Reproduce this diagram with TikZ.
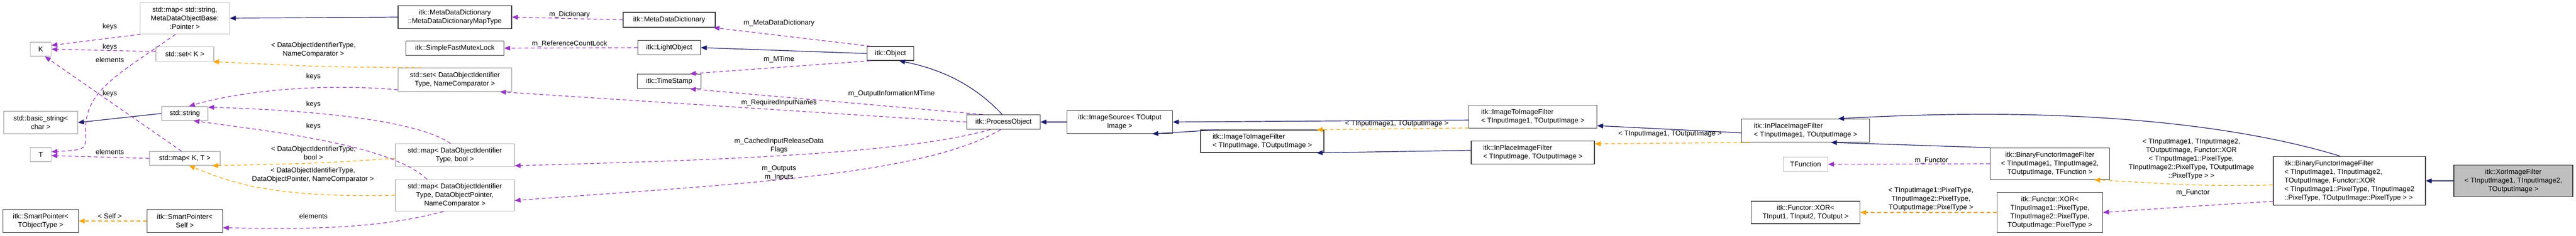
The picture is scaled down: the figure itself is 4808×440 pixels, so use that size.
\documentclass[tikz,border=0pt]{standalone}
\usepackage{fontspec}
\setmainfont{Liberation Sans}
\usetikzlibrary{arrows.meta}
\definecolor{navy}{HTML}{191970}
\definecolor{purp}{HTML}{9A32CD}
\definecolor{orng}{HTML}{FFA500}
\definecolor{gbord}{HTML}{BFBFBF}
\definecolor{bbord}{HTML}{404040}
\begin{document}
\begin{tikzpicture}[x=1pt,y=-1pt,
  every node/.style={font=\fontsize{13}{16}\selectfont},
  bx/.style={draw=bbord,line width=1.2pt,inner sep=0pt,align=center,fill=white},
  gx/.style={draw=gbord,line width=1.2pt,inner sep=0pt,align=center,fill=white},
  tip/.style={-{Triangle[length=11pt,width=9pt]}},
  inh/.style={tip,navy,line width=1.2pt},
  tmpl/.style={tip,orng,line width=1.2pt,dash pattern=on 7pt off 5pt},
  use/.style={tip,purp,line width=1.2pt,dash pattern=on 7pt off 5pt},
  lbl/.style={align=center,inner sep=0pt}]
\useasboundingbox (0,0) rectangle (4808,440);
% nodes
\node[gx,minimum width=167,minimum height=59] (mapStr) at (345,34) {std::map< std::string,\\MetaDataObjectBase:\\:Pointer >};
\node[gx,minimum width=39,minimum height=26] (K) at (76,92) {K};
\node[gx,minimum width=108,minimum height=27] (setK) at (345,101) {std::set< K >};
\node[gx,minimum width=86,minimum height=26] (string) at (345,212) {std::string};
\node[gx,minimum width=138,minimum height=42] (basic) at (76,229) {std::basic\_string<\\char >};
\node[gx,minimum width=39,minimum height=26] (T) at (76,289) {T};
\node[gx,minimum width=132,minimum height=26] (mapKT) at (345,296) {std::map< K, T >};
\node[bx,minimum width=141,minimum height=43] (SPT) at (76,413) {itk::SmartPointer<\\TObjectType >};
\node[bx,minimum width=141,minimum height=43] (SPSelf) at (345,413) {itk::SmartPointer<\\Self >};
\node[bx,minimum width=212,minimum height=43] (MDDMap) at (849,32) {itk::MetaDataDictionary\\::MetaDataDictionaryMapType};
\node[bx,minimum width=172,minimum height=28] (MDD) at (1249,37) {itk::MetaDataDictionary};
\node[bx,minimum width=183,minimum height=27] (SFML) at (849,90) {itk::SimpleFastMutexLock};
\node[bx,minimum width=117,minimum height=27] (Light) at (1249,89) {itk::LightObject};
\node[gx,minimum width=212,minimum height=44] (setDOI) at (849,149) {std::set< DataObjectIdentifier\\Type, NameComparator >};
\node[bx,minimum width=119,minimum height=27] (TS) at (1249,152) {itk::TimeStamp};
\node[gx,minimum width=222,minimum height=43] (mapDOIbool) at (849,290) {std::map< DataObjectIdentifier\\Type, bool >};
\node[gx,minimum width=222,minimum height=59] (mapDOIptr) at (849,365) {std::map< DataObjectIdentifier\\Type, DataObjectPointer,\\NameComparator >};
\node[bx,minimum width=87,minimum height=26] (Object) at (1662,100) {itk::Object};
\node[bx,minimum width=137,minimum height=27] (PO) at (1873,228) {itk::ProcessObject};
\node[bx,minimum width=197,minimum height=43] (IS) at (2090,228) {itk::ImageSource< TOutput\\Image >};
\node[bx,minimum width=230,minimum height=42,align=left] (ITIF) at (2356,264) {itk::ImageToImageFilter\\< TInputImage, TOutputImage >};
\node[bx,minimum width=239,minimum height=43,align=left] (ITIF1) at (2861,218) {itk::ImageToImageFilter\\< TInputImage1, TOutputImage >};
\node[bx,minimum width=230,minimum height=43,align=left] (IPIF) at (2861,285) {itk::InPlaceImageFilter\\< TInputImage, TOutputImage >};
\node[bx,minimum width=239,minimum height=43,align=left] (IPIF1) at (3370,244) {itk::InPlaceImageFilter\\< TInputImage1, TOutputImage >};
\node[bx,minimum width=223,minimum height=59] (BFIF) at (3826,306) {itk::BinaryFunctorImageFilter\\< TInputImage1, TInputImage2,\\TOutputImage, TFunction >};
\node[gx,minimum width=83,minimum height=27] (TF) at (3370,307) {TFunction};
\node[bx,minimum width=203,minimum height=42] (XOR1) at (3370,397) {itk::Functor::XOR<\\TInput1, TInput2, TOutput >};
\node[bx,minimum width=197,minimum height=75] (XORpix) at (3826,397) {itk::Functor::XOR<\\TInputImage1::PixelType,\\TInputImage2::PixelType,\\TOutputImage::PixelType >};
\node[bx,minimum width=284,minimum height=91,align=left] (BFX) at (4385,338) {itk::BinaryFunctorImageFilter\\< TInputImage1, TInputImage2,\\ TOutputImage, Functor::XOR\\< TInputImage1::PixelType, TInputImage2\\::PixelType, TOutputImage::PixelType > >};
\node[bx,fill=gbord,minimum width=222,minimum height=59] (Xor) at (4691,338) {itk::XorImageFilter\\< TInputImage1, TInputImage2,\\TOutputImage >};
% inheritance
\draw[inh] (string.west) -- (basic.east);
\draw[inh] (MDDMap.west) -- (mapStr.east);
\draw[inh] (Object.west) -- (Light.east);
\draw[inh] (PO.100) .. controls (1820,160) and (1760,130) .. (Object.-40);
\draw[inh] (IS.west) -- (PO.east);
\draw[inh] (ITIF1.183) -- (IS.east);
\draw[inh] (ITIF.165) -- (IS.-20);
\draw[inh] (IPIF.178) -- (ITIF.-12);
\draw[inh] (IPIF1.182) -- (ITIF1.-8);
\draw[inh] (BFX.110) .. controls (4200,240) and (3900,195) .. (IPIF1.20);
\draw[inh] (BFIF.165) -- (IPIF1.-25);
\draw[inh] (Xor.west) -- (BFX.east);
% templates
\draw[tmpl] (setDOI.160) .. controls (600,125) .. (setK.-15);
\draw[tmpl] (mapDOIbool.183) .. controls (600,305) .. (mapKT.-15);
\draw[tmpl] (mapDOIptr.180) .. controls (500,370) and (430,340) .. (mapKT.-60);
\draw[tmpl] (SPSelf.west) -- (SPT.east);
\draw[tmpl] (ITIF1.190) -- (ITIF.12);
\draw[tmpl] (IPIF1.192) -- (IPIF.8);
\draw[tmpl] (BFX.183) .. controls (4100,350) and (4000,340) .. (BFIF.-20);
\draw[tmpl] (XORpix.west) -- (XOR1.east);
% usage
\draw[use] (mapStr.200) -- (K.20);
\draw[use] (setK.175) -- (K.east);
\draw[use] (mapKT.115) -- (K.-60);
\draw[use] (mapStr.-120) .. controls (220,140) and (155,170) .. (160,250) .. controls (160,280) .. (T.15);
\draw[use] (mapKT.west) -- (T.-5);
\draw[use] (setDOI.190) .. controls (600,155) and (450,170) .. (string.60);
\draw[use] (mapDOIbool.110) .. controls (770,220) and (550,205) .. (string.15);
\draw[use] (mapDOIptr.150) .. controls (730,270) and (500,245) .. (string.-40);
\draw[use] (mapDOIptr.-125) .. controls (700,430) and (550,428) .. (SPSelf.-10);
\draw[use] (MDD.west) -- (MDDMap.east);
\draw[use] (Light.west) -- (SFML.east);
\draw[use] (Object.160) -- (MDD.-10);
\draw[use] (Object.-160) -- (TS.20);
\draw[use] (PO.160) -- (TS.-20);
\draw[use] (PO.west) -- (setDOI.-15);
\draw[use] (PO.-150) .. controls (1680,290) and (1300,300) .. (mapDOIbool.-10);
\draw[use] (PO.-110) .. controls (1720,330) and (1350,345) .. (mapDOIptr.-5);
\draw[use] (BFIF.west) -- (TF.east);
\draw[use] (BFX.-165) .. controls (4100,385) .. (XORpix.east);
% labels
\node[lbl] at (205,50) {keys};
\node[lbl] at (205,88) {keys};
\node[lbl] at (205,112) {elements};
\node[lbl] at (205,175) {keys};
\node[lbl] at (205,284) {elements};
\node[lbl] at (205,404) {< Self >};
\node[lbl] at (585,93) {< DataObjectIdentifierType,\\NameComparator >};
\node[lbl] at (585,143) {keys};
\node[lbl] at (585,195) {keys};
\node[lbl] at (585,236) {keys};
\node[lbl] at (585,286) {< DataObjectIdentifierType,\\bool >};
\node[lbl] at (584,327) {< DataObjectIdentifierType,\\DataObjectPointer, NameComparator >};
\node[lbl] at (585,404) {elements};
\node[lbl] at (1063,27) {m\_Dictionary};
\node[lbl] at (1063,82) {m\_ReferenceCountLock};
\node[lbl] at (1454,43) {m\_MetaDataDictionary};
\node[lbl] at (1454,111) {m\_MTime};
\node[lbl] at (1664,175) {m\_OutputInformationMTime};
\node[lbl] at (1454,192) {m\_RequiredInputNames};
\node[lbl] at (1454,272) {m\_CachedInputReleaseData\\Flags};
\node[lbl] at (1454,323) {m\_Outputs\\m\_Inputs};
\node[lbl] at (2607,231) {< TInputImage1, TOutputImage >};
\node[lbl] at (3117,250) {< TInputImage1, TOutputImage >};
\node[lbl] at (3605,300) {m\_Functor};
\node[lbl] at (3604,372) {< TInputImage1::PixelType,\\TInputImage2::PixelType,\\TOutputImage::PixelType >};
\node[lbl] at (4090,297) {< TInputImage1, TInputImage2,\\TOutputImage, Functor::XOR\\< TInputImage1::PixelType,\\TInputImage2::PixelType, TOutputImage\\::PixelType > >};
\node[lbl] at (4093,360) {m\_Functor};
\end{tikzpicture}
\end{document}
